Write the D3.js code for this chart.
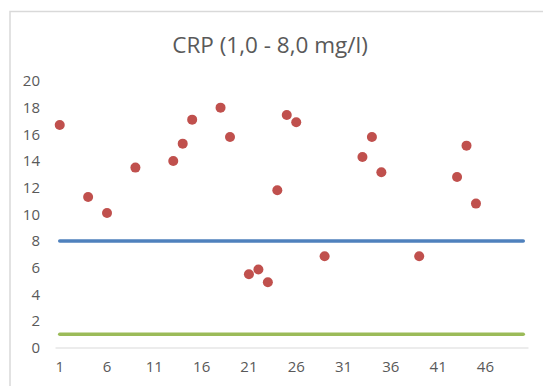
<!DOCTYPE html>
<html>
<head>
<meta charset="utf-8">
<script src="https://cdn.jsdelivr.net/npm/d3@7"></script>
<style>
  body { margin: 0; background: #fff; }
  svg { display: block; font-family: "Open Sans", sans-serif; }
</style>
</head>
<body>
<svg width="543" height="386"></svg>
<script>
const days = [1, 4, 6, 9, 13, 14, 15, 18, 19, 21, 22, 23, 24, 25, 26, 29, 33, 34, 35, 39, 43, 44, 45];
const crp = [16.7, 11.3, 10.1, 13.5, 14.0, 15.3, 17.1, 18.0, 15.8, 5.5, 5.85, 4.9, 11.8, 17.45, 16.9, 6.85, 14.3, 15.8, 13.15, 6.85, 12.8, 15.15, 10.8];
const categoryCount = 50;
const upperLimit = 8.0;
const lowerLimit = 1.0;
const yTicks = [0, 2, 4, 6, 8, 10, 12, 14, 16, 18, 20];
const xTickLabels = [1, 6, 11, 16, 21, 26, 31, 36, 41, 46];
const title = "CRP (1,0 - 8,0 mg/l)";

const svg = d3.select("svg");
const categories = d3.range(1, categoryCount + 1);

// chart frame
svg.append("rect")
  .attr("x", 10).attr("y", 11.5)
  .attr("width", 545).attr("height", 390)
  .attr("fill", "#fff")
  .attr("stroke", "#d9d9d9")
  .attr("stroke-width", 1.5);

const x = d3.scaleBand().domain(categories).range([55, 528]).padding(0);
const cx = (d) => x(d) + x.bandwidth() / 2;
const y = d3.scaleLinear().domain([0, 20]).range([347.5, 81]);

svg.append("text")
  .attr("x", 270).attr("y", 53)
  .attr("text-anchor", "middle")
  .attr("fill", "#595959")
  .style("font-size", "22.5px")
  .text(title);

// y axis labels
svg.append("g")
  .attr("transform", "translate(40,0)")
  .call(d3.axisLeft(y).tickValues(yTicks).tickSize(0).tickPadding(0))
  .call((g) => g.select(".domain").remove())
  .selectAll("text")
  .attr("fill", "#595959")
  .style("font-size", "15px")
  .style("font-family", "Open Sans");

// x axis
const xAxis = svg.append("g")
  .attr("transform", `translate(0,${y(0)})`)
  .call(d3.axisBottom(x).tickValues(xTickLabels).tickSize(0).tickPadding(14));
xAxis.select(".domain").attr("stroke", "#d9d9d9").attr("stroke-width", 1.2);
xAxis.selectAll("text")
  .attr("fill", "#595959")
  .style("font-size", "15px")
  .style("font-family", "Open Sans");

const line = d3.line().x((d) => cx(d[0])).y((d) => y(d[1]));
const first = categories[0];
const last = categories[categories.length - 1];

svg.append("path")
  .datum([[first, upperLimit], [last, upperLimit]])
  .attr("d", line)
  .attr("stroke", "#4f81bd")
  .attr("stroke-width", 3.5)
  .attr("stroke-linecap", "round")
  .attr("fill", "none");

svg.append("path")
  .datum([[first, lowerLimit], [last, lowerLimit]])
  .attr("d", line)
  .attr("stroke", "#9bbb59")
  .attr("stroke-width", 3.5)
  .attr("stroke-linecap", "round")
  .attr("fill", "none");

svg.append("g")
  .selectAll("circle")
  .data(days.map((d, i) => [d, crp[i]]))
  .enter()
  .append("circle")
  .attr("cx", (d) => cx(d[0]))
  .attr("cy", (d) => y(d[1]))
  .attr("r", 5)
  .attr("fill", "#c0504d");
</script>
</body>
</html>
